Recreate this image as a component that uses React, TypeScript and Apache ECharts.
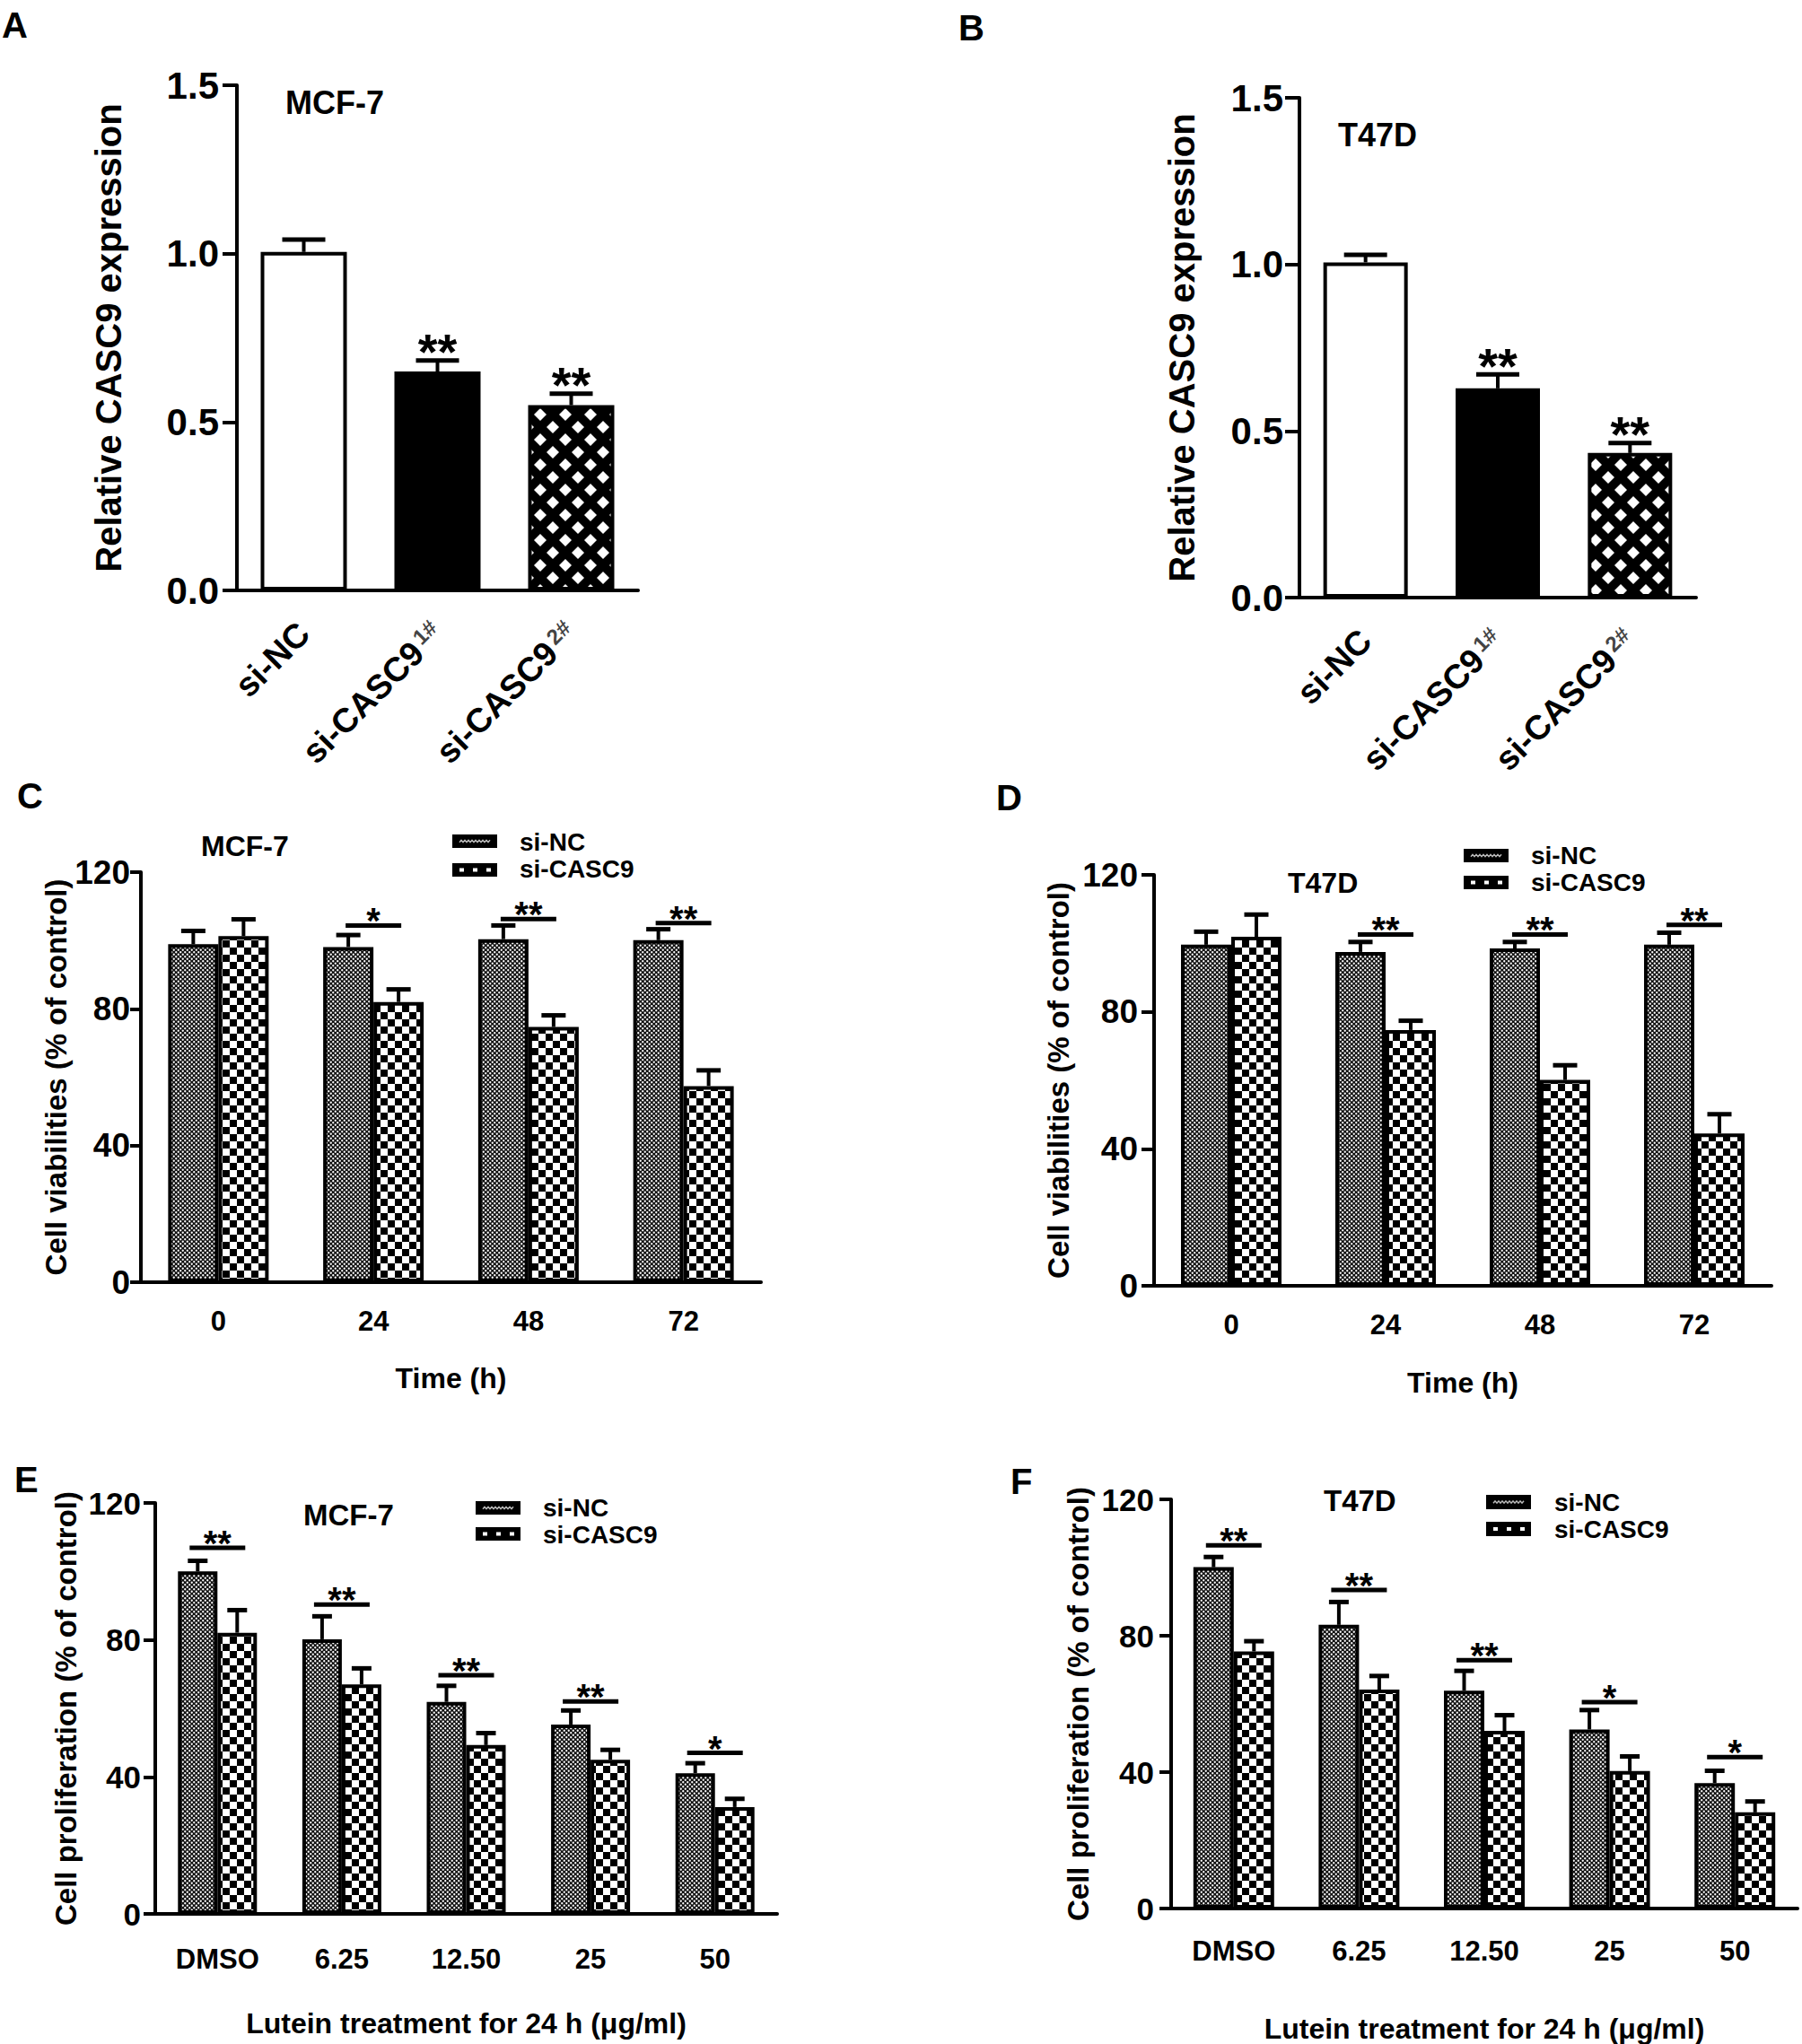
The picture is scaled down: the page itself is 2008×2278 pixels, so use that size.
import { useEffect, useRef } from "react";
import * as echarts from "echarts";

const W = 2008;
const H = 2278;
const FONT = "'Liberation Sans', Arial, Helvetica, sans-serif";

// A / B: relative CASC9 expression
const exprCats = ["si-NC", "si-CASC9 1#", "si-CASC9 2#"];
const mcfExpr = [1.005, 0.65, 0.55];
const mcfExprErr = [0.037, 0.033, 0.034];
const t47Expr = [1.006, 0.628, 0.434];
const t47ExprErr = [0.023, 0.042, 0.03];
const exprStars = ["", "**", "**"];

// C / D: cell viability over time
const timeCats = ["0", "24", "48", "72"];
const mcfViabNC = [98.9, 98.1, 100.4, 100.1];
const mcfViabNCErr = [3.9, 3.5, 4.0, 3.2];
const mcfViabKD = [101.3, 82.0, 74.7, 57.4];
const mcfViabKDErr = [4.9, 3.7, 3.4, 4.6];
const mcfViabSigY = [0, 104.4, 106.3, 105.1];
const mcfViabSig = ["", "*", "**", "**"];

const t47ViabNC = [99.6, 97.5, 98.5, 99.6];
const t47ViabNCErr = [3.8, 2.9, 1.9, 3.5];
const t47ViabKD = [101.9, 74.7, 60.1, 44.5];
const t47ViabKDErr = [6.5, 2.7, 4.3, 5.6];
const t47ViabSigY = [0, 102.6, 102.6, 105.4];
const t47ViabSig = ["", "**", "**", "**"];

// E / F: proliferation under lutein
const doseCats = ["DMSO", "6.25", "12.50", "25", "50"];
const mcfProlNC = [100.0, 80.2, 61.9, 55.3, 41.1];
const mcfProlNCErr = [3.1, 6.7, 4.7, 4.1, 2.9];
const mcfProlKD = [82.1, 67.0, 49.3, 45.0, 31.2];
const mcfProlKDErr = [6.6, 4.7, 3.5, 2.9, 2.4];
const mcfProlSigY = [106.9, 90.3, 69.7, 62.0, 47.0];
const mcfProlSig = ["**", "**", "**", "**", "*"];

const t47ProlNC = [100.1, 83.2, 63.9, 52.5, 36.8];
const t47ProlNCErr = [3.0, 6.7, 5.8, 5.7, 3.6];
const t47ProlKD = [75.4, 64.2, 52.1, 40.3, 28.2];
const t47ProlKDErr = [3.0, 4.0, 4.6, 4.3, 3.2];
const t47ProlSigY = [106.5, 93.4, 72.8, 60.5, 44.4];
const t47ProlSig = ["**", "**", "**", "*", "*"];

function tile(w: number, h: number, draw: (ctx: CanvasRenderingContext2D) => void) {
  const c = document.createElement("canvas");
  c.width = w;
  c.height = h;
  draw(c.getContext("2d")!);
  return { image: c.toDataURL(), imageWidth: w, imageHeight: h, repeat: "repeat" };
}

function makePatterns() {
  const dots = tile(5, 5, (ctx) => {
    ctx.fillStyle = "#111";
    ctx.fillRect(0, 0, 5, 5);
    ctx.fillStyle = "#fff";
    for (const [cx, cy] of [[1.25, 1.25], [3.75, 3.75]]) {
      ctx.beginPath();
      ctx.arc(cx, cy, 1.15, 0, Math.PI * 2);
      ctx.fill();
    }
  });
  const checker = tile(16, 16, (ctx) => {
    ctx.fillStyle = "#fff";
    ctx.fillRect(0, 0, 16, 16);
    ctx.fillStyle = "#000";
    ctx.fillRect(0, 0, 8, 8);
    ctx.fillRect(8, 8, 8, 8);
  });
  const diamonds = tile(28, 28, (ctx) => {
    ctx.fillStyle = "#000";
    ctx.fillRect(0, 0, 28, 28);
    ctx.fillStyle = "#fff";
    const r = 7;
    for (const [cx, cy] of [[14, 14], [0, 0], [28, 0], [0, 28], [28, 28]]) {
      ctx.beginPath();
      ctx.moveTo(cx, cy - r);
      ctx.lineTo(cx + r, cy);
      ctx.lineTo(cx, cy + r);
      ctx.lineTo(cx - r, cy);
      ctx.closePath();
      ctx.fill();
    }
  });
  return { dots, checker, diamonds };
}

const black = "#000";

function yAxis(gridIndex: number, o: any) {
  return {
    type: "value",
    gridIndex,
    min: 0,
    max: o.max,
    interval: o.interval,
    name: o.name,
    nameLocation: "middle",
    nameGap: o.nameGap,
    nameTextStyle: { fontSize: o.nameSize, fontWeight: "bold", color: black, fontFamily: FONT },
    axisLine: { show: true, lineStyle: { color: black, width: 4 } },
    axisTick: { show: true, length: o.tickLen, lineStyle: { color: black, width: 4 } },
    axisLabel: {
      fontSize: o.labelSize,
      fontWeight: "bold",
      color: black,
      fontFamily: FONT,
      margin: o.labelMargin,
      formatter: o.formatter,
    },
    splitLine: { show: false },
  };
}

function xAxis(gridIndex: number, data: string[], o: any) {
  return {
    type: "category",
    gridIndex,
    data,
    name: o.name,
    nameLocation: "middle",
    nameGap: o.nameGap,
    nameTextStyle: { fontSize: o.nameSize, fontWeight: "bold", color: black, fontFamily: FONT },
    axisLine: { lineStyle: { color: black, width: 4 } },
    axisTick: { alignWithLabel: true, length: o.tickLen, lineStyle: { color: black, width: 4 } },
    axisLabel: {
      interval: 0,
      fontSize: o.labelSize,
      fontWeight: "bold",
      color: black,
      fontFamily: FONT,
      margin: o.labelMargin,
      rotate: o.rotate || 0,
      formatter: o.formatter,
      rich: o.rich,
    },
  };
}

function errorBars(g: number, means: number[], errs: number[], offset: number, capW: number) {
  return {
    type: "custom",
    xAxisIndex: g,
    yAxisIndex: g,
    z: 5,
    encode: { x: 0, y: [1, 2] },
    data: means.map((m, i) => [i, m, m + errs[i]]),
    renderItem: (_p: any, api: any) => {
      const base = api.coord([api.value(0), api.value(1)]);
      const top = api.coord([api.value(0), api.value(2)]);
      const x = base[0] + offset;
      return {
        type: "group",
        children: [
          { type: "line", shape: { x1: x, y1: base[1], x2: x, y2: top[1] }, style: { stroke: black, lineWidth: 4 } },
          {
            type: "line",
            shape: { x1: x - capW / 2, y1: top[1], x2: x + capW / 2, y2: top[1] },
            style: { stroke: black, lineWidth: 5 },
          },
        ],
      };
    },
  };
}

function starsAbove(g: number, means: number[], errs: number[], marks: string[], fs: number) {
  const items = means.map((m, i) => ({ i, y: m + errs[i], m: marks[i] })).filter((d) => d.m);
  return {
    type: "custom",
    xAxisIndex: g,
    yAxisIndex: g,
    z: 6,
    data: items.map((d) => [d.i, d.y]),
    renderItem: (p: any, api: any) => {
      const c = api.coord([api.value(0), api.value(1)]);
      return {
        type: "text",
        x: c[0],
        y: c[1] - 10,
        style: {
          text: items[p.dataIndex].m,
          fontSize: fs,
          fontWeight: "bold",
          fontFamily: FONT,
          fill: black,
          align: "center",
          verticalAlign: "middle",
        },
      };
    },
  };
}

function sigBars(g: number, ys: number[], marks: string[], half: number, fs: number) {
  const items = ys.map((y, i) => ({ i, y, m: marks[i] })).filter((d) => d.m);
  return {
    type: "custom",
    xAxisIndex: g,
    yAxisIndex: g,
    z: 6,
    data: items.map((d) => [d.i, d.y]),
    renderItem: (p: any, api: any) => {
      const c = api.coord([api.value(0), api.value(1)]);
      return {
        type: "group",
        children: [
          {
            type: "line",
            shape: { x1: c[0] - half, y1: c[1], x2: c[0] + half, y2: c[1] },
            style: { stroke: black, lineWidth: 5 },
          },
          {
            type: "text",
            x: c[0],
            y: c[1] - 5,
            style: {
              text: items[p.dataIndex].m,
              fontSize: fs,
              fontWeight: "bold",
              fontFamily: FONT,
              fill: black,
              align: "center",
              verticalAlign: "middle",
            },
          },
        ],
      };
    },
  };
}

function pairBars(g: number, nc: number[], kd: number[], w: number, pat: any) {
  const common = {
    type: "bar",
    xAxisIndex: g,
    yAxisIndex: g,
    barWidth: w,
    barGap: "0%",
    z: 3,
  };
  return [
    { ...common, name: "si-NC", data: nc, itemStyle: { color: pat.dots, borderColor: black, borderWidth: 4 } },
    { ...common, name: "si-CASC9", data: kd, itemStyle: { color: pat.checker, borderColor: black, borderWidth: 4 } },
  ];
}

function label(x: number, y: number, text: string, fs: number, va = "middle") {
  return {
    type: "text",
    x,
    y,
    style: { text, fontSize: fs, fontWeight: "bold", fontFamily: FONT, fill: black, verticalAlign: va },
  };
}

function legend(x: number, y1: number, y2: number, h: number, tx: number, t1: number, t2: number, fs: number) {
  const mid1 = y1 + h / 2;
  const wave: number[][] = [];
  for (let k = 0; k <= 17; k++) wave.push([x + 8 + k * 2, mid1 + (k % 2 ? -1.2 : 1.2)]);
  const mid2 = y2 + h / 2;
  return [
    { type: "rect", shape: { x, y: y1, width: 50, height: h }, style: { fill: black } },
    { type: "polyline", shape: { points: wave }, style: { stroke: "#bbb", lineWidth: 1.5, fill: null } },
    { type: "rect", shape: { x, y: y2, width: 50, height: h }, style: { fill: black } },
    {
      type: "line",
      shape: { x1: x + 8, y1: mid2, x2: x + 44, y2: mid2 },
      style: { stroke: "#fff", lineWidth: 4, lineDash: [5, 10] },
    },
    label(tx, t1, "si-NC", fs),
    label(tx, t2, "si-CASC9", fs),
  ];
}

function buildOption() {
  const pat = makePatterns();
  const exprFills = ["#fff", "#000", pat.diamonds];

  const supRich = {
    m: { fontSize: 38, fontWeight: "bold", fontFamily: FONT, color: black },
    s: { fontSize: 24, fontFamily: FONT, color: "#444", verticalAlign: "top", padding: [0, 0, 0, 4] },
  };
  const supFormatter = (v: string) => {
    const [a, b] = v.split(" ");
    return b ? `{m|${a}}{s|${b}}` : `{m|${a}}`;
  };
  const exprAxisX = {
    tickLen: 17,
    labelSize: 38,
    labelMargin: 42,
    rotate: 45,
    formatter: supFormatter,
    rich: supRich,
  };
  const fixed1 = (v: number) => v.toFixed(1);
  const xName = "Lutein treatment for 24 h (μg/ml)";

  return {
    animation: false,
    backgroundColor: "#fff",
    textStyle: { fontFamily: FONT },
    grid: [
      { left: 264, top: 95, width: 447, height: 563 },
      { left: 1448, top: 109, width: 442, height: 557 },
      { left: 157, top: 972, width: 691, height: 457 },
      { left: 1286, top: 975, width: 688, height: 458 },
      { left: 173, top: 1675, width: 693, height: 458 },
      { left: 1305, top: 1671, width: 698, height: 465 },
    ],
    xAxis: [
      xAxis(0, exprCats, exprAxisX),
      xAxis(1, exprCats, exprAxisX),
      xAxis(2, timeCats, { tickLen: 15, labelSize: 31, labelMargin: 28, name: "Time (h)", nameGap: 91, nameSize: 32 }),
      xAxis(3, timeCats, { tickLen: 15, labelSize: 31, labelMargin: 28, name: "Time (h)", nameGap: 92, nameSize: 32 }),
      xAxis(4, doseCats, { tickLen: 15, labelSize: 31, labelMargin: 35, name: xName, nameGap: 106, nameSize: 32 }),
      xAxis(5, doseCats, { tickLen: 15, labelSize: 31, labelMargin: 32, name: xName, nameGap: 118, nameSize: 32 }),
    ],
    yAxis: [
      yAxis(0, {
        max: 1.5, interval: 0.5, name: "Relative CASC9 expression", nameGap: 123, nameSize: 40,
        tickLen: 16, labelSize: 42, labelMargin: 20, formatter: fixed1,
      }),
      yAxis(1, {
        max: 1.5, interval: 0.5, name: "Relative CASC9 expression", nameGap: 111, nameSize: 40,
        tickLen: 16, labelSize: 42, labelMargin: 18, formatter: fixed1,
      }),
      yAxis(2, {
        max: 120, interval: 40, name: "Cell viabilities (% of control)", nameGap: 71, nameSize: 33,
        tickLen: 12, labelSize: 37, labelMargin: 12,
      }),
      yAxis(3, {
        max: 120, interval: 40, name: "Cell viabilities (% of control)", nameGap: 90, nameSize: 33,
        tickLen: 14, labelSize: 37, labelMargin: 18,
      }),
      yAxis(4, {
        max: 120, interval: 40, name: "Cell proliferation (% of control)", nameGap: 83, nameSize: 33,
        tickLen: 13, labelSize: 35, labelMargin: 16,
      }),
      yAxis(5, {
        max: 120, interval: 40, name: "Cell proliferation (% of control)", nameGap: 87, nameSize: 33,
        tickLen: 13, labelSize: 35, labelMargin: 19,
      }),
    ],
    series: [
      {
        type: "bar",
        xAxisIndex: 0,
        yAxisIndex: 0,
        barWidth: 96,
        z: 3,
        data: mcfExpr.map((v, i) => ({ value: v, itemStyle: { color: exprFills[i] } })),
        itemStyle: { borderColor: black, borderWidth: 4 },
      },
      errorBars(0, mcfExpr, mcfExprErr, 0, 48),
      starsAbove(0, mcfExpr, mcfExprErr, exprStars, 56),
      {
        type: "bar",
        xAxisIndex: 1,
        yAxisIndex: 1,
        barWidth: 94,
        z: 3,
        data: t47Expr.map((v, i) => ({ value: v, itemStyle: { color: exprFills[i] } })),
        itemStyle: { borderColor: black, borderWidth: 4 },
      },
      errorBars(1, t47Expr, t47ExprErr, 0, 48),
      starsAbove(1, t47Expr, t47ExprErr, exprStars, 56),

      ...pairBars(2, mcfViabNC, mcfViabKD, 56, pat),
      errorBars(2, mcfViabNC, mcfViabNCErr, -28, 27),
      errorBars(2, mcfViabKD, mcfViabKDErr, 28, 27),
      sigBars(2, mcfViabSigY, mcfViabSig, 31, 40),

      ...pairBars(3, t47ViabNC, t47ViabKD, 56, pat),
      errorBars(3, t47ViabNC, t47ViabNCErr, -28, 27),
      errorBars(3, t47ViabKD, t47ViabKDErr, 28, 27),
      sigBars(3, t47ViabSigY, t47ViabSig, 31, 40),

      ...pairBars(4, mcfProlNC, mcfProlKD, 44, pat),
      errorBars(4, mcfProlNC, mcfProlNCErr, -22, 22),
      errorBars(4, mcfProlKD, mcfProlKDErr, 22, 22),
      sigBars(4, mcfProlSigY, mcfProlSig, 31, 40),

      ...pairBars(5, t47ProlNC, t47ProlKD, 45, pat),
      errorBars(5, t47ProlNC, t47ProlNCErr, -22.5, 22),
      errorBars(5, t47ProlKD, t47ProlKDErr, 22.5, 22),
      sigBars(5, t47ProlSigY, t47ProlSig, 31, 40),
    ],
    graphic: [
      label(2, 8, "A", 40, "top"),
      label(1068, 11, "B", 40, "top"),
      label(19, 867, "C", 40, "top"),
      label(1110, 869, "D", 40, "top"),
      label(16, 1629, "E", 40, "top"),
      label(1126, 1631, "F", 40, "top"),
      label(318, 114, "MCF-7", 36),
      label(1491, 150, "T47D", 36),
      label(224, 943, "MCF-7", 32),
      label(1435, 984, "T47D", 32),
      label(338, 1688, "MCF-7", 33),
      label(1475, 1672, "T47D", 33),
      ...legend(504, 930, 962, 15, 579, 938, 968, 28),
      ...legend(1631, 946, 976, 15, 1706, 953, 983, 28),
      ...legend(530, 1673, 1702, 15, 605, 1680, 1710, 28),
      ...legend(1656, 1666, 1696, 16, 1732, 1674, 1704, 28),
    ],
  };
}

export default function App() {
  const ref = useRef<HTMLDivElement>(null);

  useEffect(() => {
    document.body.style.margin = "0";
    if (!ref.current) return;
    const chart = echarts.init(ref.current, null, { renderer: "svg" });
    chart.setOption(buildOption() as any);
    return () => chart.dispose();
  }, []);

  return <div ref={ref} style={{ width: W, height: H, background: "#fff" }} />;
}
